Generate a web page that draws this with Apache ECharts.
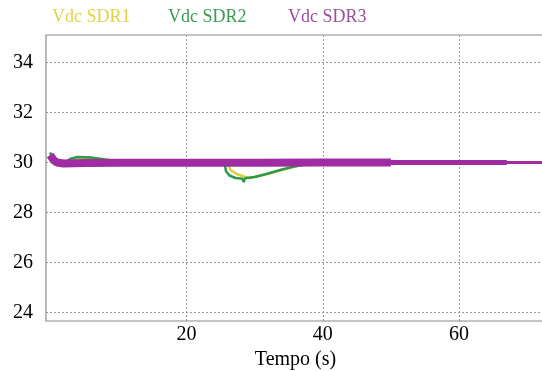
<!DOCTYPE html>
<html><head><meta charset="utf-8">
<script src="https://cdn.jsdelivr.net/npm/echarts@6/dist/echarts.min.js"></script>
<style>html,body{margin:0;padding:0;background:#fff}#c{width:542px;height:371px}</style>
</head><body><div id="c"></div>
<script>
// ---- data ----
const seriesNames = ['Vdc SDR1', 'Vdc SDR2', 'Vdc SDR3'];
const xTicks = [20, 40, 60];
const yTicks = [24, 26, 28, 30, 32, 34];
const xLabel = 'Tempo (s)';
// [time (s), voltage (V)]
const sdr1 = [[0,30.35],[0.5,30.1],[1,30.0],[2,29.97],[3,30.1],[4,30.2],[6,30.19],[8,30.13],[10,30.06],[12,30.02],[15,30.0],[20,30.0],[25,30.0],[26,29.98],[26.5,29.7],[27.3,29.55],[28.3,29.45],[29.2,29.38],[30,29.42],[32,29.55],[34,29.7],[36,29.85],[38,29.96],[39,30.0],[45,30.0],[73,30.0]];
const sdr2 = [[0,30.4],[0.5,30.15],[1,30.02],[2,29.98],[3,30.15],[4,30.22],[6,30.2],[8,30.12],[10,30.04],[12,30.0],[20,30.0],[25,30.0],[25.6,29.98],[25.8,29.65],[26.3,29.48],[27.2,29.38],[28.2,29.35],[28.4,29.22],[28.6,29.37],[30,29.42],[32,29.56],[34,29.72],[36,29.85],[38,29.95],[39,30.0],[45,30.0],[73,30.0]];
const sdr3a = [[0,30.3],[0.5,30.1],[1,30.0],[2,29.96],[5,29.98],[10,29.99],[20,29.99],[30,29.99],[40,30.0],[50,30.0]];
const sdr3b = [[50,30.0],[60,30.0],[67,30.0]];
const sdr3c = [[67,30.0],[73,30.0]];

const serif = '"Liberation Serif","DejaVu Serif",serif';
const chart = echarts.init(document.getElementById('c'), null, {renderer: 'canvas'});
const dotted = {show: true, lineStyle: {color: '#9a9a9a', type: [2, 2], width: 1}};
chart.setOption({
  animation: false,
  grid: {left: 46, top: 35, right: -3, bottom: 50, show: true, borderColor: '#8a8a8a', borderWidth: 1.2, outerBoundsMode: 'none', containLabel: false},
  graphic: [
    {type: 'text', left: 52, top: 8, style: {text: seriesNames[0], fill: '#dcd548', font: '18px ' + serif}},
    {type: 'text', left: 168, top: 8, style: {text: seriesNames[1], fill: '#3a9a55', font: '18px ' + serif}},
    {type: 'text', left: 288, top: 8, style: {text: seriesNames[2], fill: '#9a4d9a', font: '18px ' + serif}}
  ],
  xAxis: {
    type: 'value', min: -0.6, max: 72.6,
    name: xLabel, nameLocation: 'middle', nameGap: 28,
    nameTextStyle: {fontFamily: serif, fontSize: 20, color: '#000'},
    axisLine: {show: false},
    axisTick: {show: false, customValues: xTicks},
    axisLabel: {customValues: xTicks, fontFamily: serif, fontSize: 20, color: '#000', margin: 4},
    splitLine: dotted
  },
  yAxis: {
    type: 'value', min: 23.66, max: 35.1,
    axisLine: {show: false, onZero: false},
    axisTick: {show: false, customValues: yTicks},
    axisLabel: {customValues: yTicks, fontFamily: serif, fontSize: 20, color: '#000', margin: 13},
    splitLine: dotted
  },
  series: [
    {name: seriesNames[0], type: 'line', data: sdr1, showSymbol: false, lineStyle: {color: '#d8d23a', width: 2.5}},
    {name: seriesNames[1], type: 'line', data: sdr2, showSymbol: false, lineStyle: {color: '#2e9a48', width: 2.5}},
    {name: seriesNames[2], type: 'line', data: sdr3a, showSymbol: false, lineStyle: {color: '#a02ca4', width: 8}},
    {name: seriesNames[2], type: 'line', data: sdr3b, showSymbol: false, lineStyle: {color: '#a02ca4', width: 5}},
    {name: seriesNames[2], type: 'line', data: sdr3c, showSymbol: false, lineStyle: {color: '#a02ca4', width: 3}}
  ]
});
</script></body></html>
